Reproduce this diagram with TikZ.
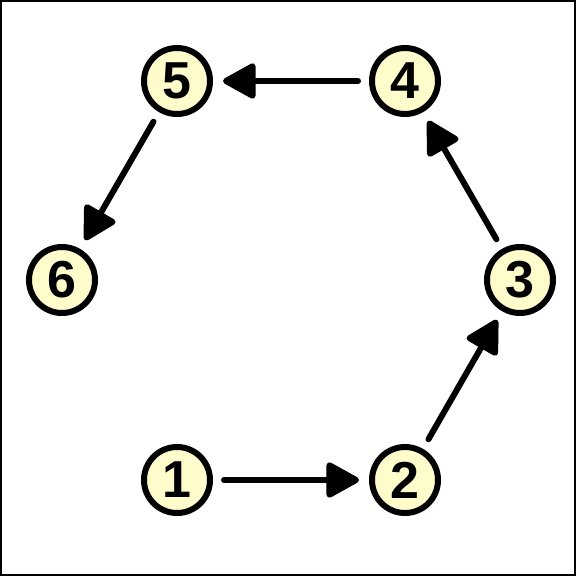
\documentclass[tikz,border=0pt]{standalone}
\usepackage{fontspec}
\setmainfont{Liberation Sans}
\usepackage{tikz}
\usetikzlibrary{positioning,arrows.meta}

\begin{document}
\begin{tikzpicture}[
      x=1pt, y=-1pt,
      vtx/.style={draw, circle, line width=6pt, fill=yellow!20,
                  minimum size=66pt, inner sep=0pt,
                  font=\fontsize{52}{52}\selectfont\bfseries},
      arr/.style={line width=6pt, line cap=round,
                  -{Triangle[length=36pt, width=38pt, round]},
                  shorten <=11pt, shorten >=10pt},
    ]
    \useasboundingbox (0,0) rectangle (576,576);
    \draw[line width=2pt] (1,1) rectangle (575,575);
    \node[vtx] (n1) at (177,480) {1};
    \node[vtx] (n2) at (405,480) {2};
    \node[vtx] (n3) at (520,280) {3};
    \node[vtx] (n4) at (405,81) {4};
    \node[vtx] (n5) at (177,81) {5};
    \node[vtx] (n6) at (62,280) {6};
    \draw[arr] (n1) -- (n2);
    \draw[arr] (n2) -- (n3);
    \draw[arr] (n3) -- (n4);
    \draw[arr] (n4) -- (n5);
    \draw[arr] (n5) -- (n6);
  \end{tikzpicture}
\end{document}
